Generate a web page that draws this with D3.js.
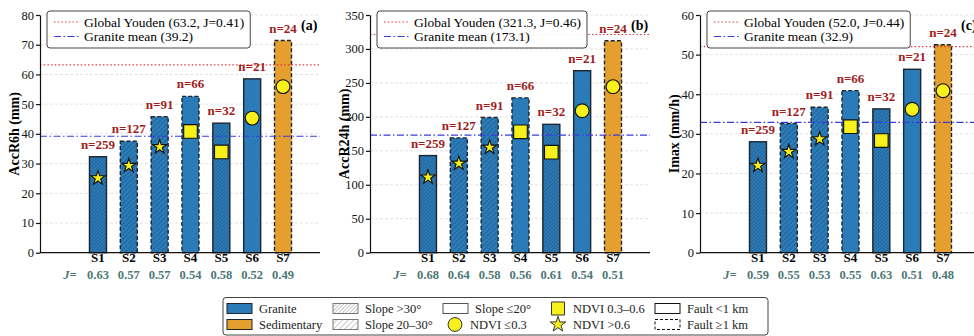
<!DOCTYPE html>
<html>
<head>
<meta charset="utf-8">
<script src="https://cdn.jsdelivr.net/npm/d3@7"></script>
<style>
  body { margin: 0; background: #fff; }
  svg, svg text { font-family: "Liberation Serif", "Times New Roman", Times, "DejaVu Serif", serif; }
</style>
</head>
<body>
<div id="chart"></div>
<script>

// ---- data ----
const sites = ["S1", "S2", "S3", "S4", "S5", "S6", "S7"];
const lithology = ["Granite", "Granite", "Granite", "Granite", "Granite", "Granite", "Sedimentary"];
const slopeClass = [">30", "20-30", "20-30", "<=20", ">30", "<=20", "<=20"];
const faultClass = ["<1", ">=1", ">=1", ">=1", "<1", "<1", ">=1"];
const ndviClass = [">0.6", ">0.6", ">0.6", "0.3-0.6", "0.3-0.6", "<=0.3", "<=0.3"];
const sampleN = [259, 127, 91, 66, 32, 21, 24];

const panelLabels = ["(a)", "(b)", "(c)"];
const yLabels = ["AccR6h (mm)", "AccR24h (mm)", "Imax (mm/h)"];
const yMax = [80, 350, 60];
const yStep = [10, 50, 10];

const acc6hBars = [32.3, 37.5, 45.8, 52.6, 43.6, 58.5, 71.4];
const acc6hMarkers = [25.1, 29.3, 35.6, 40.8, 33.9, 45.3, 55.9];
const acc6hJ = ["0.63", "0.57", "0.57", "0.54", "0.58", "0.52", "0.49"];

const acc24hBars = [143, 169, 199, 228, 189, 268, 312];
const acc24hMarkers = [111, 131.5, 155, 178, 148, 209, 244.5];
const acc24hJ = ["0.68", "0.64", "0.58", "0.56", "0.61", "0.54", "0.51"];

const imaxBars = [28.0, 32.6, 36.7, 40.9, 36.3, 46.3, 52.5];
const imaxMarkers = [22.0, 25.5, 28.7, 31.8, 28.3, 36.2, 40.9];
const imaxJ = ["0.59", "0.55", "0.53", "0.55", "0.63", "0.51", "0.48"];

const youdenValue = [63.2, 321.3, 52.0];
const youdenJ = ["0.41", "0.46", "0.44"];
const graniteMean = [39.2, 173.1, 32.9];

const barsByPanel = [acc6hBars, acc24hBars, imaxBars];
const markersByPanel = [acc6hMarkers, acc24hMarkers, imaxMarkers];
const jByPanel = [acc6hJ, acc24hJ, imaxJ];

// ---- styles ----
const FONT = '"Liberation Serif", "Times New Roman", Times, "DejaVu Serif", serif';
const colGranite = "#2b7bb9";
const colSed = "#e59f2e";
const colEdge = "#1c2630";
const colN = "#a01d1d";
const colJ = "#4d7777";
const colRed = "#e0383a";
const colBlue = "#3b3bdc";

const svg = d3.select("#chart").append("svg")
    .attr("width", 974)
    .attr("height", 336)
    .attr("font-family", FONT);

// hatch patterns
const defs = svg.append("defs");
function hatch(id, bg, line, gap, w) {
    const p = defs.append("pattern")
        .attr("id", id)
        .attr("patternUnits", "userSpaceOnUse")
        .attr("width", gap).attr("height", gap)
        .attr("patternTransform", "rotate(45)");
    p.append("rect").attr("width", gap).attr("height", gap).attr("fill", bg);
    p.append("line").attr("x1", 0).attr("y1", 0).attr("x2", 0).attr("y2", gap)
        .attr("stroke", line).attr("stroke-width", w);
}
hatch("h30", colGranite, "#1d4a70", 2.6, 0.9);
hatch("h20", colGranite, "#1d4a70", 3.6, 0.9);
hatch("lh30", "#fff", "#777", 2.6, 0.8);
hatch("lh20", "#fff", "#777", 4, 0.8);

function barFill(i) {
    if (lithology[i] === "Sedimentary") return colSed;
    if (slopeClass[i] === ">30") return "url(#h30)";
    if (slopeClass[i] === "20-30") return "url(#h20)";
    return colGranite;
}

const yBottom = 252.7, yTop = 15;

for (let p = 0; p < 3; p++) {
    const x0 = 40 + 330 * p;
    const xEnd = x0 + 280;
    const g = svg.append("g");

    const x = d3.scaleLinear().domain([-0.88, 8.2]).range([x0, xEnd]);
    const y = d3.scaleLinear().domain([0, yMax[p]]).range([yBottom, yTop]);
    const ticks = d3.range(0, yMax[p] + 0.001, yStep[p]);
    const bw = 17;

    // grid
    g.selectAll(".grid").data(ticks.slice(1)).enter().append("line")
        .attr("x1", x0).attr("x2", xEnd)
        .attr("y1", d => y(d)).attr("y2", d => y(d))
        .attr("stroke", "#dcdcdc").attr("stroke-width", 0.8)
        .attr("stroke-dasharray", "3,2");

    // bars
    g.selectAll(".bar").data(barsByPanel[p]).enter().append("rect")
        .attr("x", (d, i) => x(i + 1) - bw / 2)
        .attr("y", d => y(d))
        .attr("width", bw)
        .attr("height", d => y(0) - y(d))
        .attr("fill", (d, i) => barFill(i))
        .attr("stroke", colEdge)
        .attr("stroke-width", 1.4)
        .attr("stroke-dasharray", (d, i) => faultClass[i] === ">=1" ? "4,2.2" : null);

    // reference lines
    g.append("line")
        .attr("x1", x0).attr("x2", xEnd)
        .attr("y1", y(youdenValue[p])).attr("y2", y(youdenValue[p]))
        .attr("stroke", colRed).attr("stroke-width", 1.2)
        .attr("stroke-dasharray", "1.5,2.2");
    g.append("line")
        .attr("x1", x0).attr("x2", xEnd)
        .attr("y1", y(graniteMean[p])).attr("y2", y(graniteMean[p]))
        .attr("stroke", colBlue).attr("stroke-width", 1.2)
        .attr("stroke-dasharray", "7,2.5,1.5,2.5");

    // NDVI markers
    g.selectAll(".mk").data(markersByPanel[p]).enter().append("path")
        .attr("transform", (d, i) => `translate(${x(i + 1)},${y(d)})`)
        .attr("d", (d, i) => {
            const c = ndviClass[i];
            if (c === ">0.6") return d3.symbol(d3.symbolStar, 62)();
            if (c === "0.3-0.6") return d3.symbol(d3.symbolSquare, 185)();
            return d3.symbol(d3.symbolCircle, 150)();
        })
        .attr("fill", "#f7f01a")
        .attr("stroke", "#111")
        .attr("stroke-width", 1.1);

    // n labels
    g.selectAll(".nl").data(barsByPanel[p]).enter().append("text")
        .attr("x", (d, i) => x(i + 1))
        .attr("y", d => y(d) - 8)
        .attr("text-anchor", "middle")
        .attr("font-size", 13).attr("font-weight", "bold")
        .attr("fill", colN)
        .text((d, i) => "n=" + sampleN[i]);

    // panel label
    g.append("text")
        .attr("x", x0 + 261).attr("y", 30)
        .attr("font-size", 14).attr("font-weight", "bold")
        .text(panelLabels[p]);

    // axes
    g.append("g")
        .attr("transform", `translate(${x0},0)`)
        .call(d3.axisLeft(y).tickValues(ticks).tickSize(4).tickSizeOuter(0).tickPadding(2))
        .attr("font-family", FONT)
        .call(a => a.selectAll("text").attr("font-size", 12.5).attr("fill", "#111"))
        .call(a => a.selectAll("line,path").attr("stroke", "#111").attr("stroke-width", 1.2));
    g.append("line")
        .attr("x1", x0).attr("x2", xEnd)
        .attr("y1", yBottom).attr("y2", yBottom)
        .attr("stroke", "#111").attr("stroke-width", 1.2);

    // site labels and J row
    g.selectAll(".sl").data(sites).enter().append("text")
        .attr("x", (d, i) => x(i + 1)).attr("y", 262)
        .attr("text-anchor", "middle")
        .attr("font-size", 13).attr("font-weight", "bold")
        .text(d => d);
    g.append("text")
        .attr("x", x0 + 30).attr("y", 279)
        .attr("text-anchor", "middle")
        .attr("font-size", 12.5).attr("font-weight", "bold").attr("font-style", "italic")
        .attr("fill", colJ)
        .text("J=");
    g.selectAll(".jl").data(jByPanel[p]).enter().append("text")
        .attr("x", (d, i) => x(i + 1)).attr("y", 279)
        .attr("text-anchor", "middle")
        .attr("font-size", 12.5).attr("font-weight", "bold")
        .attr("fill", colJ)
        .text(d => d);

    // y label
    g.append("text")
        .attr("transform", `translate(${x0 - 21},${(yTop + yBottom) / 2}) rotate(-90)`)
        .attr("text-anchor", "middle")
        .attr("font-size", 14).attr("font-weight", "bold")
        .text(yLabels[p]);

    // inner legend
    const lg = g.append("g").attr("transform", `translate(${x0 + 7},11)`);
    const box = lg.append("rect")
        .attr("rx", 3).attr("height", 37)
        .attr("fill", "#fff").attr("fill-opacity", 0.9)
        .attr("stroke", "#444").attr("stroke-width", 1);
    lg.append("line").attr("x1", 7).attr("x2", 33).attr("y1", 11).attr("y2", 11)
        .attr("stroke", colRed).attr("stroke-width", 1.2).attr("stroke-dasharray", "1.5,2.2");
    lg.append("line").attr("x1", 7).attr("x2", 33).attr("y1", 25.5).attr("y2", 25.5)
        .attr("stroke", colBlue).attr("stroke-width", 1.2).attr("stroke-dasharray", "7,2.5,1.5,2.5");
    const t1 = lg.append("text").attr("x", 37).attr("y", 15.5).attr("font-size", 13.5)
        .text(`Global Youden (${youdenValue[p].toFixed(1)}, J=${youdenJ[p]})`);
    lg.append("text").attr("x", 37).attr("y", 30).attr("font-size", 13.5)
        .text(`Granite mean (${graniteMean[p].toFixed(1)})`);
    box.attr("width", 37 + t1.node().getComputedTextLength() + 6);
}

// ---- bottom legend ----
const legendRows = [
    [
        {kind: "patch", fill: colGranite, label: "Granite"},
        {kind: "patch", fill: "url(#lh30)", stroke: "#777", label: "Slope >30°"},
        {kind: "patch", fill: "#fff", stroke: "#555", label: "Slope ≤20°"},
        {kind: "square", label: "NDVI 0.3–0.6"},
        {kind: "patch", fill: "#fff", stroke: "#111", label: "Fault <1 km"}
    ],
    [
        {kind: "patch", fill: colSed, label: "Sedimentary"},
        {kind: "patch", fill: "url(#lh20)", stroke: "#777", label: "Slope 20–30°"},
        {kind: "circle", label: "NDVI ≤0.3"},
        {kind: "star", label: "NDVI >0.6"},
        {kind: "patch", fill: "#fff", stroke: "#111", dash: "3,2", label: "Fault ≥1 km"}
    ]
];
const colX = [227, 333, 443, 546, 655];
const rowY = [308.5, 324.5];

const bl = svg.append("g");
bl.append("rect")
    .attr("x", 223).attr("y", 297.5).attr("width", 545).attr("height", 37.5)
    .attr("rx", 3)
    .attr("fill", "#fff").attr("stroke", "#444").attr("stroke-width", 1);

legendRows.forEach((row, r) => {
    row.forEach((it, c) => {
        const cx = colX[c], cy = rowY[r];
        if (it.kind === "patch") {
            bl.append("rect")
                .attr("x", cx).attr("y", cy - 5).attr("width", 25).attr("height", 10)
                .attr("fill", it.fill)
                .attr("stroke", it.stroke || colEdge).attr("stroke-width", 1)
                .attr("stroke-dasharray", it.dash || null);
        } else {
            const sym = it.kind === "square" ? d3.symbol(d3.symbolSquare, 170)()
                : it.kind === "circle" ? d3.symbol(d3.symbolCircle, 150)()
                : d3.symbol(d3.symbolStar, 75)();
            bl.append("path")
                .attr("transform", `translate(${cx + 12},${cy})`)
                .attr("d", sym)
                .attr("fill", "#f7f01a").attr("stroke", "#333").attr("stroke-width", 1);
        }
        bl.append("text")
            .attr("x", cx + (it.kind === "patch" ? 32 : 27)).attr("y", cy + 4.5)
            .attr("font-size", 12.5)
            .attr("fill", "#222")
            .text(it.label);
    });
});

</script>
</body>
</html>
